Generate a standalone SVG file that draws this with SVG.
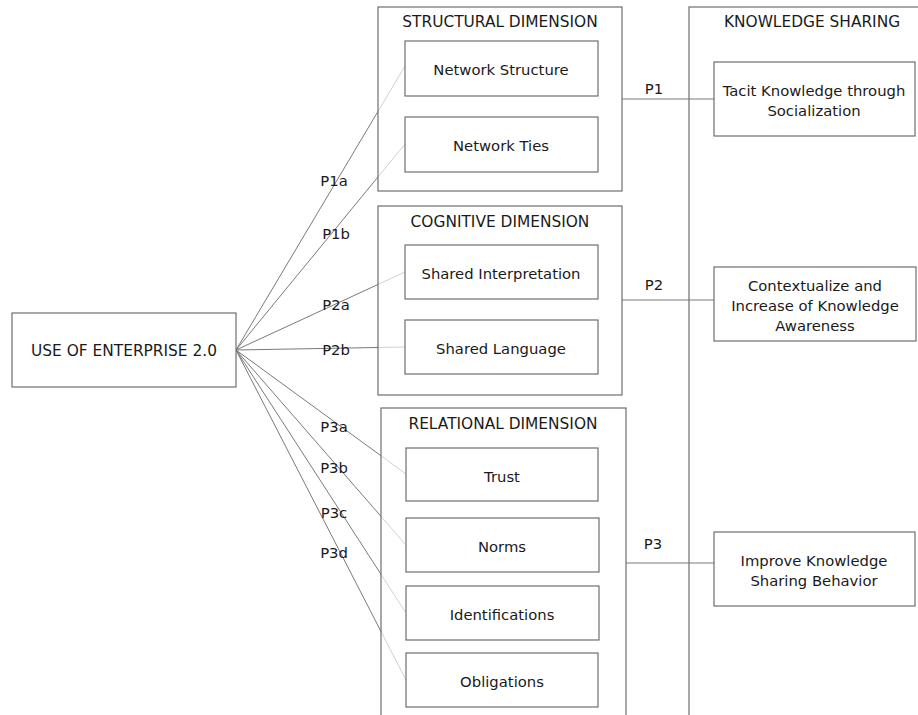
<svg xmlns="http://www.w3.org/2000/svg" width="918" height="715" viewBox="0 0 918 715">
<style>
text{font-family:"DejaVu Sans","Liberation Sans",sans-serif;font-size:14.8px;fill:#1a1a1a;text-anchor:middle;dominant-baseline:central}
.t{font-size:15.4px}
.box{fill:#fff;stroke:#6e6e6e;stroke-width:1.2}
.outer{fill:#fff;fill-opacity:0.65;stroke:#6e6e6e;stroke-width:1.2}
.ln{stroke:#7a7a7a;stroke-width:1;fill:none}
</style>
<rect width="918" height="715" fill="#fff"/>
<g id="connectors">
<path class="ln" d="M236 350L405 66M236 350L405 144M236 350L405 272M236 350L405 347M236 350L406 474M236 350L406 545M236 350L406 613M236 350L406 680"/>
</g>
<g id="knowledge-sharing">
<rect class="outer" x="689" y="7" width="240" height="720"/>
<text class="t" x="812" y="22">KNOWLEDGE SHARING</text>
</g>
<g id="structural">
<rect class="outer" x="378" y="7" width="244" height="184"/>
<text class="t" x="500" y="22">STRUCTURAL DIMENSION</text>
</g>
<g id="cognitive">
<rect class="outer" x="378" y="206" width="244" height="189"/>
<text class="t" x="500" y="222">COGNITIVE DIMENSION</text>
</g>
<g id="relational">
<rect class="outer" x="381" y="408" width="245" height="320"/>
<text class="t" x="503" y="424">RELATIONAL DIMENSION</text>
</g>
<g id="connectors-p">
<path class="ln" d="M622 99H714M622 300H714M626 563H714"/>
</g>
<g id="use-of-enterprise">
<rect class="box" x="12" y="313" width="224" height="74"/>
<text class="t" x="124" y="351">USE OF ENTERPRISE 2.0</text>
</g>
<g id="network-structure">
<rect class="box" x="405" y="41" width="193" height="55"/>
<text x="501" y="69">Network Structure</text>
</g>
<g id="network-ties">
<rect class="box" x="405" y="117" width="193" height="55"/>
<text x="501" y="145">Network Ties</text>
</g>
<g id="shared-interpretation">
<rect class="box" x="405" y="245" width="193" height="54"/>
<text x="501" y="273">Shared Interpretation</text>
</g>
<g id="shared-language">
<rect class="box" x="405" y="320" width="193" height="54"/>
<text x="501" y="348">Shared Language</text>
</g>
<g id="trust">
<rect class="box" x="406" y="448" width="192" height="53"/>
<text x="502" y="476">Trust</text>
</g>
<g id="norms">
<rect class="box" x="406" y="518" width="193" height="54"/>
<text x="502" y="546">Norms</text>
</g>
<g id="identifications">
<rect class="box" x="406" y="586" width="193" height="54"/>
<text x="502" y="614">Identifications</text>
</g>
<g id="obligations">
<rect class="box" x="406" y="653" width="192" height="54"/>
<text x="502" y="681">Obligations</text>
</g>
<g id="tacit">
<rect class="box" x="714" y="62" width="201" height="74"/>
<text x="814" y="90">Tacit Knowledge through</text>
<text x="814" y="110">Socialization</text>
</g>
<g id="contextualize">
<rect class="box" x="714" y="267" width="202" height="74"/>
<text x="815" y="285">Contextualize and</text>
<text x="815" y="305">Increase of Knowledge</text>
<text x="815" y="325">Awareness</text>
</g>
<g id="improve">
<rect class="box" x="714" y="532" width="201" height="74"/>
<text x="814" y="560">Improve Knowledge</text>
<text x="814" y="580">Sharing Behavior</text>
</g>
<g id="labels">
<text x="334" y="180">P1a</text>
<text x="336" y="233">P1b</text>
<text x="336" y="304">P2a</text>
<text x="336" y="349">P2b</text>
<text x="334" y="426">P3a</text>
<text x="334" y="467">P3b</text>
<text x="334" y="512">P3c</text>
<text x="334" y="552">P3d</text>
<text x="654" y="88">P1</text>
<text x="654" y="284">P2</text>
<text x="653" y="543">P3</text>
</g>
</svg>
